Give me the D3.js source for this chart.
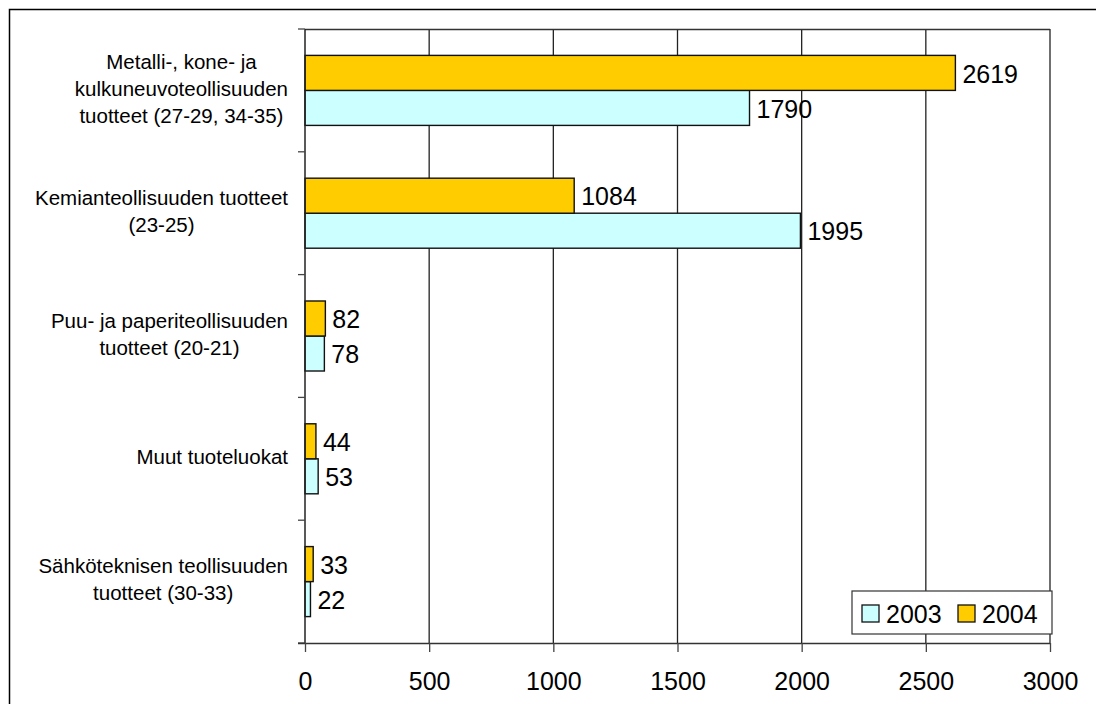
<!DOCTYPE html>
<html>
<head>
<meta charset="utf-8">
<script src="https://cdn.jsdelivr.net/npm/d3@7"></script>
<style>
  html, body { margin: 0; padding: 0; background: #fff; overflow: hidden; }
  text { font-family: "Liberation Sans", Arial, sans-serif; fill: #000; }
</style>
</head>
<body>
<div id="chart"></div>
<script>
"use strict";

var categories = [
    ["Metalli-, kone- ja", "kulkuneuvoteollisuuden", "tuotteet (27-29, 34-35)"],
    ["Kemianteollisuuden tuotteet", "(23-25)"],
    ["Puu- ja paperiteollisuuden", "tuotteet (20-21)"],
    ["Muut tuoteluokat"],
    ["Sähköteknisen teollisuuden", "tuotteet (30-33)"]
];
var values2003 = [1790, 1995, 78, 53, 22];
var values2004 = [2619, 1084, 82, 44, 33];
var seriesNames = ["2003", "2004"];
var seriesColors = ["#ccffff", "#ffcc00"];
var xTicks = [0, 500, 1000, 1500, 2000, 2500, 3000];

var width = 1096, height = 704;
var margin = {left: 305, top: 29, right: 46, bottom: 61};

var svg = d3.select("#chart").append("svg")
    .attr("width", width)
    .attr("height", height);

// outer frame (runs off the right and bottom edge)
svg.append("rect")
    .attr("x", 9.5).attr("y", 9.5)
    .attr("width", 1200).attr("height", 800)
    .attr("fill", "none")
    .attr("stroke", "#000")
    .attr("stroke-width", 1.5);

var x = d3.scaleLinear().domain([0, 3000]).range([margin.left, width - margin.right]);
var idx = categories.map(function(d, i) { return i; });
var y = d3.scaleBand().domain(idx).range([margin.top, height - margin.bottom]).padding(0);
// 2004 above 2003 inside each group
var ySub = d3.scaleBand().domain(["2004", "2003"]).range([0, y.bandwidth()])
    .paddingInner(0).paddingOuter(0.754);

var rows = idx.map(function(i) {
    return {i: i, label: categories[i], v2003: values2003[i], v2004: values2004[i]};
});

// gridlines
svg.append("g").selectAll("line")
    .data(xTicks.slice(1))
    .enter().append("line")
    .attr("x1", function(d) { return x(d); })
    .attr("x2", function(d) { return x(d); })
    .attr("y1", margin.top)
    .attr("y2", height - margin.bottom)
    .attr("stroke", "#222")
    .attr("stroke-width", 1.3);

// plot frame top
svg.append("line")
    .attr("x1", x(0)).attr("x2", x(3000))
    .attr("y1", margin.top + 0.5).attr("y2", margin.top + 0.5)
    .attr("stroke", "#333").attr("stroke-width", 1.3);

// bars
var group = svg.append("g").selectAll("g")
    .data(rows)
    .enter().append("g")
    .attr("transform", function(d) { return "translate(0," + y(d.i) + ")"; });

seriesNames.forEach(function(s, k) {
    group.append("rect")
        .attr("x", x(0))
        .attr("y", ySub(s))
        .attr("width", function(d) { return x(d["v" + s]) - x(0); })
        .attr("height", ySub.bandwidth())
        .attr("fill", seriesColors[k])
        .attr("stroke", "#111")
        .attr("stroke-width", 1.4);

    group.append("text")
        .attr("x", function(d) { return x(d["v" + s]) + 7; })
        .attr("y", ySub(s) + ySub.bandwidth() / 2 + 1)
        .attr("dy", "0.35em")
        .attr("font-size", 25)
        .text(function(d) { return d["v" + s]; });
});

// category labels: block right-aligned at the axis, lines centred in block
var lineH = 27;
var labelRight = 288;
group.append("text")
    .attr("text-anchor", "middle")
    .attr("font-size", 20.5)
    .each(function(d) {
        var t = d3.select(this);
        var n = d.label.length;
        var spans = d.label.map(function(line, j) {
            return t.append("tspan")
                .attr("y", y.bandwidth() / 2 - 2 + (j - (n - 1) / 2) * lineH)
                .attr("dy", "0.35em")
                .text(line);
        });
        var w = d3.max(spans, function(sp) { return sp.node().getComputedTextLength(); });
        spans.forEach(function(sp) { sp.attr("x", labelRight - w / 2); });
    });

// y axis line and tick marks at group boundaries
svg.append("line")
    .attr("x1", x(0)).attr("x2", x(0))
    .attr("y1", margin.top).attr("y2", height - margin.bottom)
    .attr("stroke", "#222").attr("stroke-width", 1.5);

svg.append("g").selectAll("line")
    .data(d3.range(categories.length + 1))
    .enter().append("line")
    .attr("x1", x(0) - 7).attr("x2", x(0))
    .attr("y1", function(d) { return margin.top + d * y.step(); })
    .attr("y2", function(d) { return margin.top + d * y.step(); })
    .attr("stroke", "#444").attr("stroke-width", 1.3);

// x axis
var xAxis = svg.append("g")
    .attr("transform", "translate(0," + (height - margin.bottom) + ")")
    .call(d3.axisBottom(x).tickValues(xTicks).tickFormat(d3.format("d"))
        .tickSize(9).tickPadding(20));
xAxis.select(".domain")
    .attr("d", "M" + (x(0) - 7) + ",0.5H" + x(3000))
    .attr("stroke", "#333").attr("stroke-width", 1.5);
xAxis.selectAll(".tick line").attr("stroke", "#444").attr("stroke-width", 1.3);
xAxis.selectAll(".tick text")
    .attr("font-size", 25)
    .attr("font-family", "'Liberation Sans', Arial, sans-serif")
    .attr("fill", "#000");

// legend
var legend = svg.append("g").attr("transform", "translate(852,591)");
legend.append("rect")
    .attr("width", 200).attr("height", 43)
    .attr("fill", "#fff")
    .attr("stroke", "#333").attr("stroke-width", 1.2);
var items = legend.selectAll("g.item")
    .data(seriesNames)
    .enter().append("g")
    .attr("class", "item")
    .attr("transform", function(d, i) { return "translate(" + (10 + i * 96) + ",14)"; });
items.append("rect")
    .attr("width", 17).attr("height", 17)
    .attr("fill", function(d, i) { return seriesColors[i]; })
    .attr("stroke", "#111").attr("stroke-width", 1.3);
items.append("text")
    .attr("x", 24)
    .attr("y", 9)
    .attr("dy", "0.35em")
    .attr("font-size", 25)
    .text(function(d) { return d; });
</script>
</body>
</html>
